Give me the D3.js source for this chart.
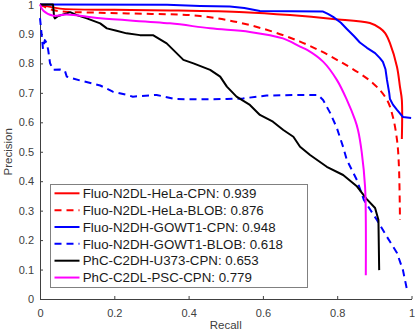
<!DOCTYPE html>
<html>
<head>
<script src="https://d3js.org/d3.v7.min.js"></script>
<style>
    body { margin: 0; background: #fff; }
    svg { font-family: "Liberation Sans", Arial, sans-serif; }
</style>
</head>
<body>
<script>
var width = 415;
var height = 332;

// series (recall / precision)
var helaCpnRecall    = [0, 0.012, 0.054, 0.20, 0.35, 0.55, 0.673, 0.789, 0.888, 0.915, 0.929, 0.942, 0.961, 0.969, 0.974, 0.974];
var helaCpnPrecision = [1.0, 0.996, 0.986, 0.982, 0.980, 0.974, 0.964, 0.951, 0.937, 0.920, 0.903, 0.869, 0.788, 0.720, 0.676, 0.543];

var helaBlobRecall    = [0, 0.035, 0.162, 0.30, 0.431, 0.565, 0.700, 0.808, 0.896, 0.934, 0.950, 0.961, 0.966, 0.969];
var helaBlobPrecision = [1.0, 0.981, 0.972, 0.968, 0.961, 0.930, 0.874, 0.806, 0.733, 0.676, 0.618, 0.540, 0.455, 0.268];

var gowtCpnRecall    = [0, 0.342, 0.431, 0.511, 0.55, 0.592, 0.762, 0.775, 0.789, 0.81, 0.826, 0.845, 0.861, 0.88, 0.902, 0.915, 0.923, 0.930, 0.934, 0.940, 0.942, 0.950, 0.961, 0.977, 0.999];
var gowtCpnPrecision = [1.0, 0.999, 0.995, 0.993, 0.988, 0.978, 0.976, 0.968, 0.958, 0.938, 0.917, 0.893, 0.871, 0.853, 0.835, 0.818, 0.805, 0.780, 0.744, 0.700, 0.679, 0.660, 0.642, 0.618, 0.615];

var gowtBlobRecall    = [0, 0.005, 0.008, 0.013, 0.018, 0.022, 0.027, 0.035, 0.054, 0.067, 0.072, 0.108, 0.162, 0.196, 0.234, 0.250, 0.314, 0.363, 0.431, 0.503, 0.546, 0.610, 0.700, 0.748, 0.762, 0.781, 0.799, 0.816, 0.826, 0.853, 0.872, 0.907, 0.934, 0.961, 0.977, 0.988];
var gowtBlobPrecision = [0.954, 0.891, 0.849, 0.879, 0.869, 0.846, 0.801, 0.778, 0.779, 0.775, 0.755, 0.742, 0.725, 0.704, 0.693, 0.687, 0.693, 0.679, 0.678, 0.679, 0.681, 0.691, 0.693, 0.693, 0.676, 0.632, 0.581, 0.516, 0.472, 0.404, 0.336, 0.268, 0.211, 0.156, 0.098, 0.031];

var u373Recall    = [0, 0.035, 0.038, 0.040, 0.049, 0.072, 0.081, 0.099, 0.126, 0.162, 0.180, 0.206, 0.233, 0.269, 0.304, 0.341, 0.386, 0.413, 0.458, 0.485, 0.503, 0.529, 0.565, 0.592, 0.627, 0.655, 0.682, 0.700, 0.727, 0.772, 0.816, 0.852, 0.879, 0.902, 0.911, 0.913];
var u373Precision = [1.0, 1.0, 0.958, 0.953, 0.961, 0.970, 0.974, 0.964, 0.953, 0.936, 0.919, 0.911, 0.902, 0.896, 0.896, 0.868, 0.812, 0.800, 0.778, 0.755, 0.721, 0.687, 0.659, 0.625, 0.602, 0.574, 0.551, 0.517, 0.489, 0.449, 0.421, 0.384, 0.340, 0.309, 0.268, 0.098];

var pscCpnRecall    = [0, 0.009, 0.036, 0.072, 0.162, 0.350, 0.458, 0.565, 0.654, 0.700, 0.719, 0.762, 0.799, 0.826, 0.848, 0.856, 0.866, 0.875, 0.877, 0.877];
var pscCpnPrecision = [1.0, 0.979, 0.962, 0.966, 0.953, 0.936, 0.919, 0.907, 0.885, 0.857, 0.846, 0.806, 0.744, 0.676, 0.608, 0.574, 0.499, 0.381, 0.268, 0.081];

var seriesNames = ['Fluo-N2DL-HeLa-CPN: 0.939', 'Fluo-N2DL-HeLa-BLOB: 0.876', 'Fluo-N2DH-GOWT1-CPN: 0.948',
    'Fluo-N2DH-GOWT1-BLOB: 0.618', 'PhC-C2DH-U373-CPN: 0.653', 'PhC-C2DL-PSC-CPN: 0.779'];
var xTicks = [0, 0.2, 0.4, 0.6, 0.8, 1];
var yTicks = [0, 0.1, 0.2, 0.3, 0.4, 0.5, 0.6, 0.7, 0.8, 0.9, 1];

var series = [
    {name: seriesNames[0], r: helaCpnRecall, p: helaCpnPrecision, color: '#ff0000', dash: null, smooth: true},
    {name: seriesNames[1], r: helaBlobRecall, p: helaBlobPrecision, color: '#ff0000', dash: '7,5', smooth: true},
    {name: seriesNames[2], r: gowtCpnRecall, p: gowtCpnPrecision, color: '#0000ff', dash: null, smooth: false},
    {name: seriesNames[3], r: gowtBlobRecall, p: gowtBlobPrecision, color: '#0000ff', dash: '7,5', smooth: false},
    {name: seriesNames[4], r: u373Recall, p: u373Precision, color: '#000000', dash: null, smooth: false},
    {name: seriesNames[5], r: pscCpnRecall, p: pscCpnPrecision, color: '#ff00ff', dash: null, smooth: true}
];

var svg = d3.select('body')
    .append('svg')
    .attr('width', width)
    .attr('height', height);

// scales
var xScale = d3.scaleLinear().domain([0, 1]).range([40, 411.5]);
var yScale = d3.scaleLinear().domain([0, 1]).range([299, 4.5]);

var axisColor = '#404040';

// x axis, ticks pointing inside
var xAxis = d3.axisBottom(xScale)
    .tickValues(xTicks)
    .tickFormat(d3.format('~g'))
    .tickSizeInner(-3)
    .tickSizeOuter(0)
    .tickPadding(10);

svg.append('g')
    .attr('transform', 'translate(0,' + yScale(0) + ')')
    .call(xAxis)
    .attr('id', 'x-axis');

var yAxis = d3.axisLeft(yScale)
    .tickValues(yTicks)
    .tickFormat(d3.format('~g'))
    .tickSizeInner(-3)
    .tickSizeOuter(0)
    .tickPadding(6);

svg.append('g')
    .attr('transform', 'translate(' + xScale(0) + ',0)')
    .call(yAxis)
    .attr('id', 'y-axis');

svg.selectAll('#x-axis, #y-axis')
    .attr('font-size', 11)
    .attr('font-family', null);
svg.selectAll('.domain, .tick line').attr('stroke', axisColor);
svg.selectAll('.tick text').attr('fill', axisColor);

// curves
var lineFor = function (s) {
    return d3.line()
        .x(d => xScale(d[0]))
        .y(d => yScale(d[1]))
        .curve(s.smooth ? d3.curveCatmullRom.alpha(0.5) : d3.curveLinear);
};

svg.append('g')
    .selectAll('path')
    .data(series)
    .enter()
    .append('path')
    .attr('d', s => lineFor(s)(s.r.map((v, i) => [v, s.p[i]])))
    .attr('fill', 'none')
    .attr('stroke', s => s.color)
    .attr('stroke-width', 2)
    .attr('stroke-dasharray', s => s.dash)
    .attr('stroke-linejoin', 'round');

// axis titles
svg.append('text')
    .attr('x', (xScale(0) + xScale(1)) / 2)
    .attr('y', 329)
    .attr('text-anchor', 'middle')
    .attr('font-size', 11.5)
    .attr('fill', axisColor)
    .text('Recall');

svg.append('text')
    .attr('transform', 'translate(12,' + (yScale(0) + yScale(1)) / 2 + ') rotate(-90)')
    .attr('text-anchor', 'middle')
    .attr('font-size', 11.5)
    .attr('fill', axisColor)
    .text('Precision');

// legend
var legend = svg.append('g').attr('id', 'legend');

legend.append('rect')
    .attr('x', 50.5)
    .attr('y', 184.5)
    .attr('width', 257)
    .attr('height', 103)
    .attr('fill', '#fff')
    .attr('stroke', '#808080')
    .attr('stroke-width', 1);

var rows = legend.selectAll('g.row')
    .data(series)
    .enter()
    .append('g')
    .attr('class', 'row')
    .attr('transform', (d, i) => 'translate(0,' + (193.3 + i * 16.85) + ')');

rows.append('line')
    .attr('x1', 54.5)
    .attr('x2', 79.5)
    .attr('stroke', d => d.color)
    .attr('stroke-width', 2)
    .attr('stroke-dasharray', d => d.dash);

rows.append('text')
    .attr('x', 82.7)
    .attr('dy', '0.36em')
    .attr('font-size', 13.3)
    .attr('fill', '#1a1a1a')
    .text(d => d.name);
</script>
</body>
</html>
